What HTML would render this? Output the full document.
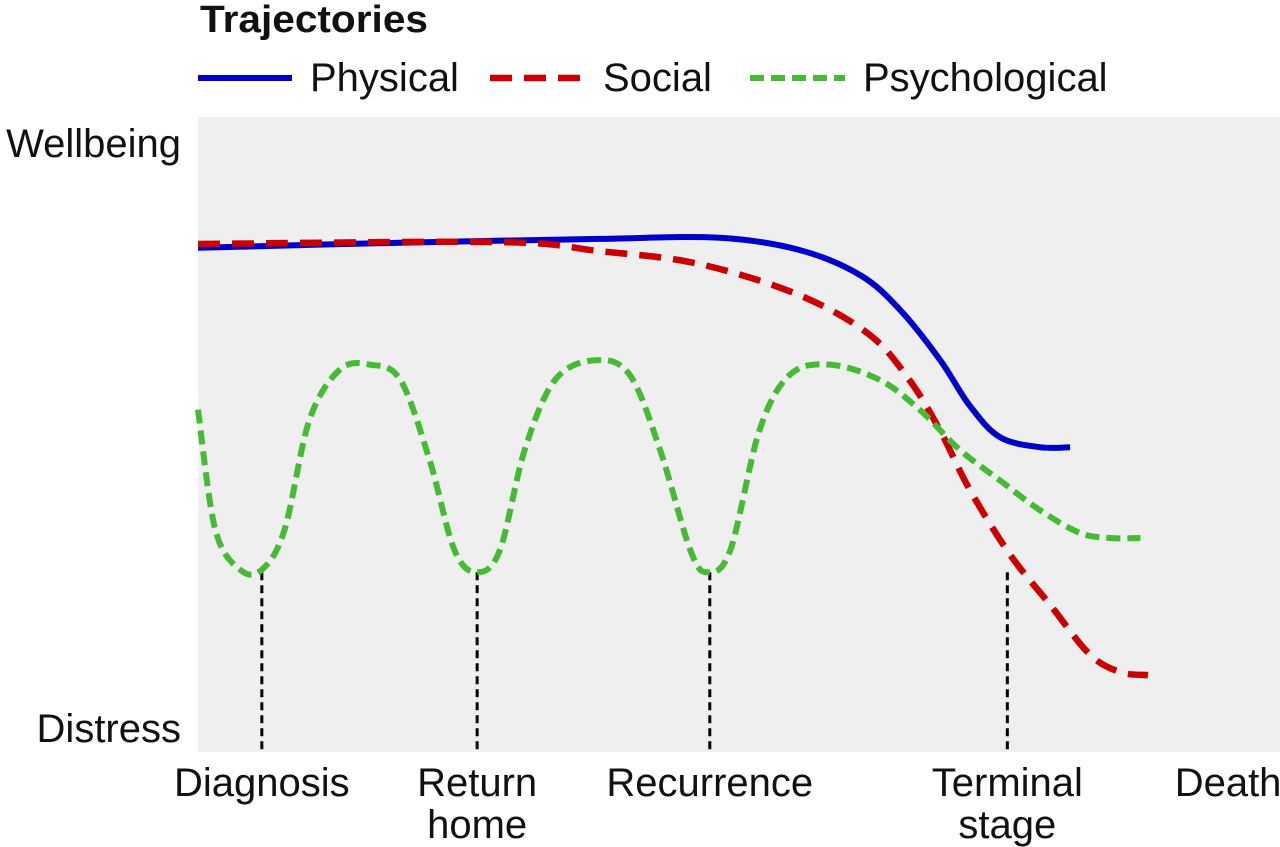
<!DOCTYPE html>
<html><head><meta charset="utf-8"><style>
html,body{margin:0;padding:0;background:#fff;width:1280px;height:847px;overflow:hidden}
svg text{font-family:"Liberation Sans",sans-serif;fill:#111}
</style></head><body>
<svg id="chart" width="1280" height="847" xmlns="http://www.w3.org/2000/svg">
<text x="200" y="32" font-size="38" font-weight="bold" textLength="228" lengthAdjust="spacingAndGlyphs">Trajectories</text>
<g id="legend"></g>
<rect x="198" y="117" width="1082" height="635" fill="#efefef"/>
<text x="181" y="157" font-size="40" text-anchor="end">Wellbeing</text>
<text x="181" y="742" font-size="40" text-anchor="end">Distress</text>
<g id="events"></g>
<g id="series"></g>
</svg>
<script>
const physX=[0,18.7,37.0,48.0,55.5,61.2,64.9,68.6,71.3,74.1,77.8,80.6];
const physY=[79.4,80.2,80.8,81.0,79.1,75.1,69.6,61.7,54.6,49.6,48.0,48.0];
const socX=[0,27.9,37.0,46.2,55.5,62.0,65.7,68.5,71.3,75.0,78.7,82.4,85.2,87.8];
const socY=[80.0,80.3,78.9,76.9,72.0,65.8,58.7,50.9,41.4,31.2,23.3,15.4,12.6,12.1];
const psyX=[0,1.6,3.9,5.9,8.0,10.3,13.1,15.9,18.7,21.4,23.7,25.8,27.9,30.2,33.0,36.7,39.9,42.7,45.5,47.1,49.2,51.9,54.7,58.4,63.0,66.7,70.4,74.1,77.8,81.5,84.3,87.1];
const psyY=[53.9,35.0,28.7,28.7,35.0,52.3,60.2,61.0,58.6,46.0,31.8,28.3,31.8,47.6,58.6,61.7,59.4,47.6,31.8,28.3,31.8,50.7,59.4,61.0,58.6,53.9,47.6,42.8,38.1,34.5,33.7,33.7];
const eventNames=["Diagnosis","Return|home","Recurrence","Terminal|stage","Death"];
const eventX=[5.9,25.8,47.3,74.8,95.2];
const eventHasLine=[1,1,1,1,0];
const eventLineTop=28.3;

const NS="http://www.w3.org/2000/svg";
const sx=v=>198+v*10.82, sy=v=>752-v*6.35;
function mk(t,a,p){const e=document.createElementNS(NS,t);for(const k in a)e.setAttribute(k,a[k]);p.appendChild(e);return e;}
function smooth(xs,ys){
  const P=xs.map((x,i)=>[sx(x),sy(ys[i])]);let d="M"+P[0][0]+","+P[0][1];
  for(let i=0;i<P.length-1;i++){const p0=P[Math.max(0,i-1)],p1=P[i],p2=P[i+1],p3=P[Math.min(P.length-1,i+2)];
    const c1=[p1[0]+(p2[0]-p0[0])/6,p1[1]+(p2[1]-p0[1])/6],c2=[p2[0]-(p3[0]-p1[0])/6,p2[1]-(p3[1]-p1[1])/6];
    d+=` C${c1[0]},${c1[1]} ${c2[0]},${c2[1]} ${p2[0]},${p2[1]}`;}
  return d;}
const ser=document.getElementById('series'),ev=document.getElementById('events'),lg=document.getElementById('legend');
eventNames.forEach((n,i)=>{
  if(eventHasLine[i]){const l=mk('line',{x1:sx(eventX[i]),x2:sx(eventX[i]),y1:sy(eventLineTop),y2:752,stroke:'#000','stroke-width':3,'stroke-dasharray':'8 5'},ev);
    
    }
  const t=mk('text',{x:sx(eventX[i]),y:796,'font-size':40,'text-anchor':'middle'},ev);
  
  
  n.split('|').forEach((s,j)=>{const ts=mk('tspan',{x:sx(eventX[i]),dy:j?42:0},t);ts.textContent=s;});
});
const sp=[[physX,physY,'#0000cc',6,'none','physical-line'],[socX,socY,'#cc0000',6.5,'22 12','social-line'],[psyX,psyY,'#44bb33',6,'14 7','psychological-line']];
sp.forEach(s=>{const p=mk('path',{d:smooth(s[0],s[1]),fill:'none',stroke:s[2],'stroke-width':s[3],'stroke-dasharray':s[4]},ser);
  
  });
const leg=[[198,292,310,'Physical',0],[490,585,603,'Social',1],[750,845,863,'Psychological',2]];
leg.forEach(l=>{const s=sp[l[4]];
  const ln=mk('line',{x1:l[0],x2:l[1],y1:78,y2:78,stroke:s[2],'stroke-width':s[3]},lg);
  if(s[4]!=='none')ln.setAttribute('stroke-dasharray',s[4]);
  
  
  const t=mk('text',{x:l[2],y:91,'font-size':40},lg);t.textContent=l[3];
  
  });
</script>
</body></html>
